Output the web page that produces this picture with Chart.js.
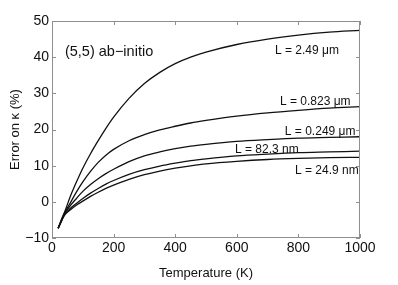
<!DOCTYPE html>
<html>
<head>
<meta charset="utf-8">
<script src="https://cdn.jsdelivr.net/npm/chart.js@4"></script>
<style>
  html, body { margin: 0; padding: 0; background: #fff; }
  #wrap { width: 398px; height: 285px; }
</style>
</head>
<body>
<div id="wrap"><canvas id="myChart" width="398" height="285"></canvas></div>
<script>
// temperature samples (K)
const temps = [20, 30, 40, 60, 80, 100, 125, 150, 175, 200, 250, 300, 350, 400, 450, 500, 600, 700, 800, 900, 1000];

// error on kappa (%) for each length
const errL249um = [-7.3, -5.0, -3.0, 1.6, 5.6, 9.3, 13.3, 16.9, 20.3, 23.4, 28.6, 32.7, 35.8, 38.2, 40.0, 41.4, 43.5, 45.0, 46.1, 46.9, 47.4];
const errL0823um = [-7.3, -5.2, -3.2, -0.2, 2.8, 5.5, 8.4, 10.9, 12.9, 14.5, 16.9, 18.6, 19.9, 20.9, 21.8, 22.5, 23.7, 24.6, 25.3, 25.9, 26.3];
const errL0249um = [-7.3, -5.3, -3.4, -1.0, 1.0, 2.9, 4.8, 6.4, 7.8, 9.0, 11.1, 12.7, 13.8, 14.7, 15.4, 15.9, 16.7, 17.2, 17.6, 17.8, 18.0];
const errL823nm = [-7.3, -5.4, -3.6, -1.8, -0.4, 0.9, 2.4, 3.7, 4.9, 5.9, 7.6, 8.9, 9.9, 10.7, 11.4, 11.9, 12.7, 13.2, 13.6, 13.8, 14.0];
const errL249nm = [-7.3, -5.5, -3.8, -2.2, -0.9, 0.2, 1.5, 2.65, 3.7, 4.6, 6.2, 7.5, 8.5, 9.3, 9.95, 10.5, 11.2, 11.7, 12.0, 12.2, 12.3];

const seriesNames = ['L = 2.49 μm', 'L = 0.823 μm', 'L = 0.249 μm', 'L = 82.3 nm', 'L = 24.9 nm'];
const seriesValues = [errL249um, errL0823um, errL0249um, errL823nm, errL249nm];

// where each curve label sits, in data units (T, %)
const labelT = [724, 740, 756, 594, 789];
const labelV = [41.8, 27.8, 19.5, 14.5, 8.7];

const xTicks = [0, 200, 400, 600, 800, 1000];
const yTicks = [-10, 0, 10, 20, 30, 40, 50];

const font = '"Liberation Sans", Arial, Helvetica, sans-serif';

// frame, inward ticks and text labels
const framePlugin = {
  id: 'frame',
  afterDatasetsDraw(chart) {
    const { ctx, chartArea: a, scales: { x, y } } = chart;
    ctx.save();
    ctx.strokeStyle = '#8f8f8f';
    ctx.lineWidth = 1;
    ctx.strokeRect(a.left + 0.5, a.top + 0.5, a.right - a.left - 1, a.bottom - a.top - 1);

    ctx.beginPath();
    xTicks.forEach(t => {
      const px = Math.round(x.getPixelForValue(t)) + 0.5;
      ctx.moveTo(px, a.bottom); ctx.lineTo(px, a.bottom - 4);
      ctx.moveTo(px, a.top); ctx.lineTo(px, a.top + 4);
    });
    yTicks.forEach(t => {
      const py = Math.round(y.getPixelForValue(t)) + 0.5;
      ctx.moveTo(a.left, py); ctx.lineTo(a.left + 4, py);
      ctx.moveTo(a.right, py); ctx.lineTo(a.right - 4, py);
    });
    ctx.stroke();

    ctx.fillStyle = '#111';
    ctx.textBaseline = 'middle';
    ctx.textAlign = 'left';
    ctx.font = '14.5px ' + font;
    ctx.fillText('(5,5) ab\u2212initio', x.getPixelForValue(42), y.getPixelForValue(41.4));

    ctx.font = '12px ' + font;
    seriesNames.forEach((name, i) => {
      ctx.fillText(name, x.getPixelForValue(labelT[i]), y.getPixelForValue(labelV[i]));
    });
    ctx.restore();
  }
};

const ctx = document.getElementById('myChart').getContext('2d');
const chart = new Chart(ctx, {
  type: 'line',
  data: {
    datasets: seriesValues.map((vals, i) => ({
      label: seriesNames[i],
      data: vals.map((v, j) => ({ x: temps[j], y: v })),
      borderColor: '#111',
      borderWidth: 1.3,
      pointRadius: 0,
      fill: false,
      cubicInterpolationMode: 'monotone'
    }))
  },
  options: {
    responsive: false,
    animation: false,
    events: [],
    layout: { padding: { top: 21, right: 38, left: 0, bottom: 0 } },
    plugins: {
      legend: { display: false },
      tooltip: { enabled: false }
    },
    scales: {
      x: {
        type: 'linear',
        min: 0,
        max: 1000,
        afterFit: (scale) => { scale.height = 47; },
        afterBuildTicks: (scale) => { scale.ticks = xTicks.map(v => ({ value: v })); },
        grid: { display: false, drawTicks: false },
        border: { display: false },
        ticks: {
          padding: 2,
          color: '#111',
          maxRotation: 0,
          font: { family: font, size: 14 },
          callback: (v) => String(v)
        },
        title: {
          display: true,
          text: 'Temperature (K)',
          color: '#111',
          font: { family: font, size: 13 },
          padding: { top: 0, bottom: 4 }
        }
      },
      y: {
        min: -10,
        max: 50,
        afterFit: (scale) => { scale.width = 52; },
        afterBuildTicks: (scale) => { scale.ticks = yTicks.map(v => ({ value: v })); },
        grid: { display: false, drawTicks: false },
        border: { display: false },
        ticks: {
          padding: 3,
          color: '#111',
          font: { family: font, size: 14 },
          callback: (v) => String(v).replace('-', '\u2212')
        },
        title: {
          display: true,
          text: 'Error on \u03ba (%)',
          color: '#111',
          font: { family: font, size: 13 },
          padding: { top: 8, bottom: 0 }
        }
      }
    }
  },
  plugins: [framePlugin]
});
</script>
</body>
</html>
